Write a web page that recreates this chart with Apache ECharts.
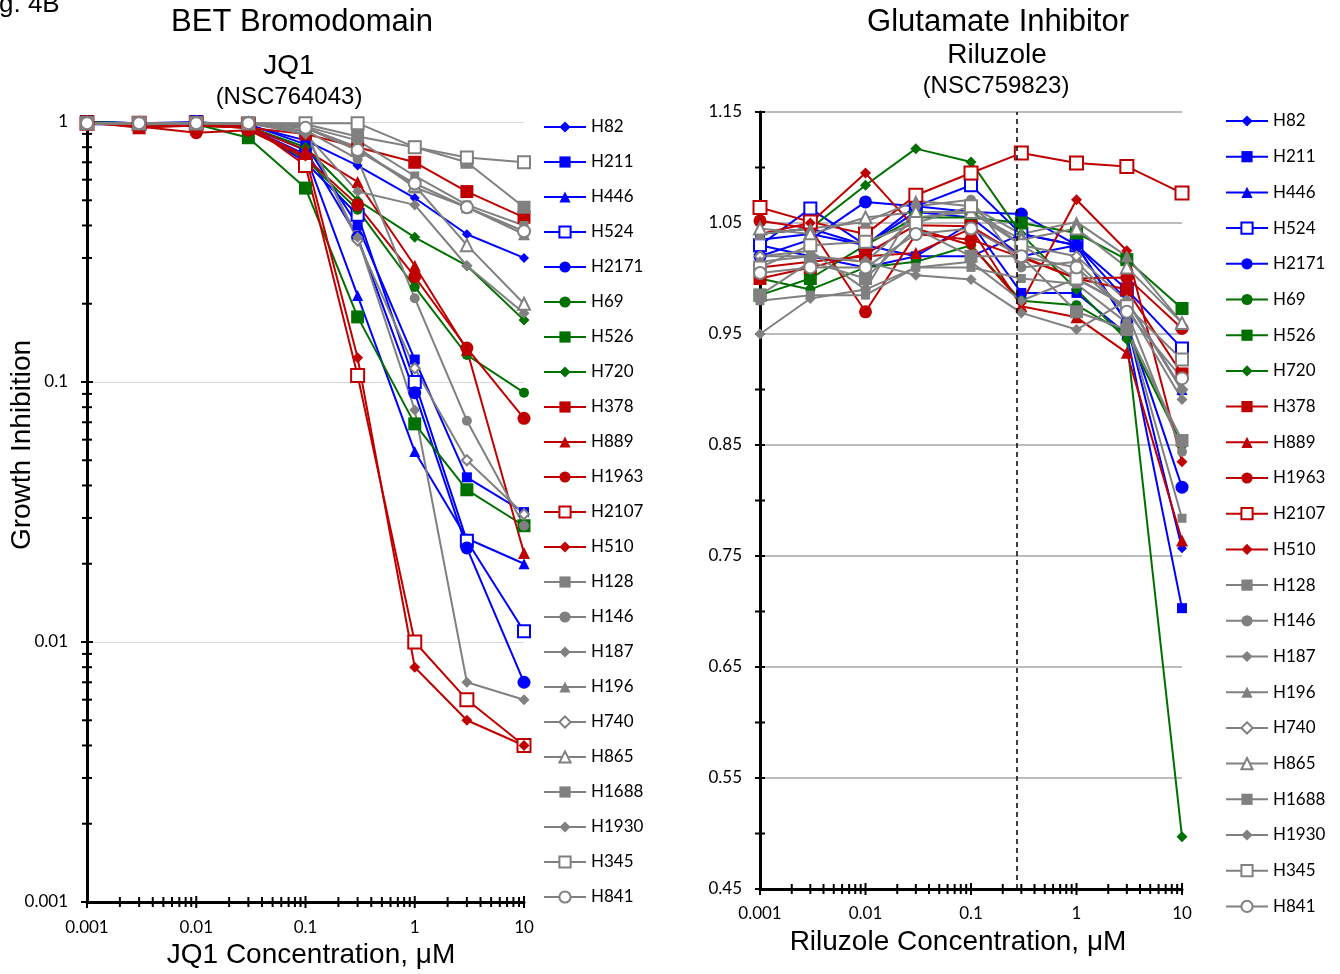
<!DOCTYPE html>
<html>
<head>
<meta charset="utf-8">
<script src="https://cdn.jsdelivr.net/npm/echarts@6/dist/echarts.min.js"></script>
<style>
  html, body { margin: 0; padding: 0; background: #fff; }
  #chart { width: 1340px; height: 974px; }
</style>
</head>
<body>
<div id="chart"></div>
<script>
// concentrations (uM), same for both drugs
var concentrations = [0.001, 0.003, 0.01, 0.03, 0.1, 0.3, 1, 3, 10];

var cellLines = ['H82', 'H211', 'H446', 'H524', 'H2171', 'H69', 'H526', 'H720', 'H378', 'H889', 'H1963',
    'H2107', 'H510', 'H128', 'H146', 'H187', 'H196', 'H740', 'H865', 'H1688', 'H1930', 'H345', 'H841'];

// JQ1 growth inhibition, one row per cell line
var jq1Inhibition = [
    [0.98, 0.98, 0.98, 0.97, 0.85, 0.68, 0.51, 0.37, 0.30],
    [1.00, 0.99, 0.99, 0.98, 0.82, 0.40, 0.122, 0.043, 0.0316],
    [0.99, 0.99, 0.98, 0.95, 0.75, 0.215, 0.054, 0.025, 0.020],
    [1.00, 0.99, 1.00, 0.97, 0.70, 0.44, 0.10, 0.0245, 0.011],
    [1.00, 0.99, 0.99, 0.96, 0.78, 0.36, 0.091, 0.023, 0.007],
    [0.99, 0.98, 0.97, 0.95, 0.72, 0.46, 0.232, 0.127, 0.091],
    [1.00, 0.99, 0.98, 0.87, 0.557, 0.178, 0.069, 0.0385, 0.028],
    [0.99, 0.99, 0.98, 0.96, 0.80, 0.50, 0.36, 0.28, 0.173],
    [1.00, 0.95, 0.97, 0.95, 0.90, 0.80, 0.70, 0.54, 0.43],
    [0.99, 0.99, 0.98, 0.96, 0.78, 0.588, 0.28, 0.133, 0.022],
    [1.00, 0.96, 0.91, 0.93, 0.73, 0.48, 0.254, 0.135, 0.0725],
    [0.99, 0.99, 0.99, 0.98, 0.68, 0.106, 0.010, 0.006, 0.004],
    [0.99, 0.96, 0.97, 0.95, 0.74, 0.124, 0.008, 0.005, 0.004],
    [0.99, 0.99, 0.99, 0.99, 0.98, 0.88, 0.80, 0.70, 0.47],
    [0.99, 0.99, 0.99, 0.98, 0.93, 0.72, 0.21, 0.071, 0.028],
    [0.99, 0.99, 0.99, 0.99, 0.90, 0.54, 0.48, 0.28, 0.184],
    [0.99, 0.99, 0.99, 0.99, 0.95, 0.80, 0.56, 0.47, 0.37],
    [0.99, 0.99, 0.99, 0.99, 0.92, 0.35, 0.113, 0.05, 0.031],
    [0.99, 0.99, 0.99, 0.99, 0.95, 0.78, 0.57, 0.336, 0.20],
    [0.99, 0.99, 0.99, 0.99, 0.96, 0.85, 0.62, 0.48, 0.40],
    [0.99, 0.99, 0.99, 0.99, 0.90, 0.36, 0.078, 0.007, 0.006],
    [0.99, 0.99, 0.99, 0.99, 0.99, 0.99, 0.80, 0.73, 0.70],
    [0.99, 0.99, 0.99, 0.99, 0.95, 0.78, 0.58, 0.47, 0.38]
];

// Riluzole growth inhibition, one row per cell line
var riluzoleInhibition = [
    [1.030, 1.020, 1.010, 1.020, 1.020, 1.040, 1.030, 0.960, 0.757],
    [1.035, 1.040, 1.030, 1.020, 1.050, 0.987, 0.987, 0.950, 0.703],
    [1.040, 1.045, 1.030, 1.060, 1.055, 1.020, 1.030, 0.980, 0.900],
    [1.030, 1.063, 1.030, 1.065, 1.084, 1.040, 1.030, 0.990, 0.937],
    [1.020, 1.035, 1.069, 1.065, 1.060, 1.058, 1.030, 0.960, 0.812],
    [1.000, 0.990, 1.010, 1.015, 1.030, 0.980, 0.976, 0.950, 0.850],
    [0.985, 1.000, 1.030, 1.055, 1.055, 1.050, 1.041, 1.017, 0.973],
    [1.040, 1.045, 1.084, 1.117, 1.105, 1.040, 0.990, 0.945, 0.497],
    [1.000, 1.010, 1.022, 1.048, 1.047, 1.020, 1.000, 0.990, 0.914],
    [1.010, 1.015, 1.020, 1.023, 1.045, 0.975, 0.965, 0.933, 0.764],
    [1.052, 1.045, 0.970, 1.040, 1.035, 1.019, 1.000, 1.001, 0.955],
    [1.064, 1.051, 1.040, 1.075, 1.095, 1.113, 1.104, 1.101, 1.077],
    [1.040, 1.050, 1.095, 1.045, 1.030, 0.978, 1.071, 1.025, 0.835],
    [0.985, 1.015, 1.000, 1.045, 1.020, 1.020, 0.970, 0.954, 0.854],
    [1.020, 1.025, 0.990, 1.065, 1.071, 1.010, 1.015, 0.970, 0.844],
    [0.950, 0.982, 0.990, 1.010, 1.015, 0.980, 1.000, 0.975, 0.891],
    [1.040, 1.045, 1.051, 1.070, 1.065, 1.040, 1.051, 1.020, 0.960],
    [1.020, 1.020, 1.015, 1.055, 1.060, 1.030, 1.020, 0.980, 0.900],
    [1.045, 1.040, 1.055, 1.060, 1.060, 1.035, 1.045, 1.010, 0.960],
    [0.980, 0.985, 0.985, 1.010, 1.010, 1.000, 0.995, 0.960, 0.784],
    [1.015, 1.020, 1.015, 1.003, 0.999, 0.969, 0.954, 0.980, 0.899],
    [1.010, 1.030, 1.033, 1.050, 1.065, 1.030, 1.000, 0.975, 0.927],
    [1.005, 1.010, 1.010, 1.040, 1.045, 1.020, 1.010, 0.970, 0.910]
];

// tick values
var logDecades = [0.001, 0.01, 0.1, 1, 10];
var riluzoleYTicks = [0.45, 0.5, 0.55, 0.6, 0.65, 0.7, 0.75, 0.8, 0.85, 0.9, 0.95, 1.0, 1.05, 1.1, 1.15];
var riluzoleMarker = 0.27;

var BLUE = '#0000ff', GREEN = '#007000', RED = '#c00000', GRAY = '#808080';
// [color, symbol, size] per cell line
var cellStyles = [
    [BLUE, 'diamond', 10], [BLUE, 'rect', 10], [BLUE, 'triangle', 11], [BLUE, 'emptyRect', 12], [BLUE, 'circle', 13],
    [GREEN, 'circle', 10], [GREEN, 'rect', 13], [GREEN, 'diamond', 11],
    [RED, 'rect', 13], [RED, 'triangle', 12], [RED, 'circle', 13], [RED, 'emptyRect', 13], [RED, 'diamond', 11],
    [GRAY, 'rect', 13], [GRAY, 'circle', 10], [GRAY, 'diamond', 11], [GRAY, 'triangle', 12], [GRAY, 'emptyDiamond', 10],
    [GRAY, 'emptyTriangle', 12], [GRAY, 'rect', 9], [GRAY, 'diamond', 11], [GRAY, 'emptyRect', 12], [GRAY, 'emptyCircle', 12]
];

var LABEL_FONT = 'Lato';
var TITLE_FONT = '"Liberation Sans", Arial, sans-serif';

function logTicks(from, to) {
    var out = [];
    logDecades.forEach(function (d) {
        if (d >= from && d <= to) out.push([d, 6]);
        if (d >= from && d < to) {
            for (var k = 2; k <= 9; k++) out.push([+(d * k).toPrecision(3), 5]);
        }
    });
    return out;
}

function tickData(xTicks, yTicks, xMin, yMin) {
    var data = [];
    xTicks.forEach(function (t) { data.push([t[0], yMin, 1, t[1]]); });
    yTicks.forEach(function (t) { data.push([xMin, t[0], 0, t[1]]); });
    return data;
}

function renderTick(params, api) {
    var p = api.coord([api.value(0), api.value(1)]);
    var h = api.value(3);
    var shape = api.value(2) === 0
        ? { x1: p[0] - h, y1: p[1], x2: p[0] + h, y2: p[1] }
        : { x1: p[0], y1: p[1] - h, x2: p[0], y2: p[1] + h };
    return { type: 'line', shape: shape, style: { stroke: '#000', lineWidth: 2 } };
}

function fmt(v) { return String(+(+v).toPrecision(3)); }

var series = [];
function addPanel(values, idx) {
    cellLines.forEach(function (name, i) {
        var st = cellStyles[i];
        var empty = st[1].indexOf('empty') === 0;
        series.push({
            name: name,
            type: 'line',
            xAxisIndex: idx,
            yAxisIndex: idx,
            data: concentrations.map(function (c, j) { return [c, values[i][j]]; }),
            symbol: st[1],
            symbolSize: st[2],
            showAllSymbol: true,
            lineStyle: { color: st[0], width: 2 },
            itemStyle: { color: st[0], borderColor: st[0], borderWidth: empty ? 1.5 : 0 },
            emphasis: { disabled: true }
        });
    });
}
addPanel(jq1Inhibition, 0);
addPanel(riluzoleInhibition, 1);

// dashed reference line on the riluzole panel
series.push({
    type: 'line', xAxisIndex: 1, yAxisIndex: 1, data: [],
    markLine: {
        silent: true, symbol: 'none', label: { show: false },
        lineStyle: { color: '#000', type: [5, 4], width: 1.5 },
        data: [{ xAxis: riluzoleMarker }]
    }
});

// crossing tick marks
series.push({
    type: 'custom', xAxisIndex: 0, yAxisIndex: 0, clip: false, silent: true,
    renderItem: renderTick,
    data: tickData(logTicks(0.001, 10), logTicks(0.001, 1), 0.001, 0.001)
});
series.push({
    type: 'custom', xAxisIndex: 1, yAxisIndex: 1, clip: false, silent: true,
    renderItem: renderTick,
    data: tickData(logTicks(0.001, 10), riluzoleYTicks.map(function (v) { return [v, 5]; }), 0.001, 0.45)
});

var axisLine = { show: true, onZero: false, lineStyle: { color: '#000', width: 3 } };
var axisLabel = { color: '#000', fontSize: 17, fontFamily: LABEL_FONT };

var legendBase = {
    data: cellLines,
    orient: 'vertical',
    padding: 0,
    itemWidth: 42,
    itemHeight: 14,
    selectedMode: false,
    textStyle: { fontSize: 17, fontFamily: LABEL_FONT, color: '#000' }
};

function txt(text, x, y, size, rot, align) {
    align = align || 'center';
    return {
        type: 'text', x: x, y: y, rotation: rot || 0,
        style: {
            text: text, font: size + 'px ' + TITLE_FONT, fill: '#000',
            textAlign: align, textVerticalAlign: 'middle', align: align, verticalAlign: 'middle'
        }
    };
}

var chart = echarts.init(document.getElementById('chart'));
chart.setOption({
    animation: false,
    backgroundColor: '#fff',
    grid: [
        { left: 87, top: 122, width: 437, height: 780 },
        { left: 760, top: 112, width: 422, height: 777 }
    ],
    xAxis: [
        { type: 'log', gridIndex: 0, min: 0.001, max: 10, logBase: 10, axisLine: axisLine,
          axisTick: { show: false }, splitLine: { show: false },
          axisLabel: Object.assign({ margin: 17, formatter: fmt }, axisLabel) },
        { type: 'log', gridIndex: 1, min: 0.001, max: 10, logBase: 10, axisLine: axisLine,
          axisTick: { show: false }, splitLine: { show: false },
          axisLabel: Object.assign({ margin: 16, formatter: fmt }, axisLabel) }
    ],
    yAxis: [
        { type: 'log', gridIndex: 0, min: 0.001, max: 1, logBase: 10, axisLine: axisLine,
          axisTick: { show: false },
          splitLine: { show: true, lineStyle: { color: '#d9d9d9', width: 1 } },
          axisLabel: Object.assign({ margin: 19, formatter: fmt }, axisLabel) },
        { type: 'value', gridIndex: 1, min: 0.45, max: 1.15, interval: 0.1, axisLine: axisLine,
          axisTick: { show: false },
          splitLine: { show: true, lineStyle: { color: '#a6a6a6', width: 1.5 } },
          axisLabel: Object.assign({ margin: 18, formatter: function (v) { return (+v).toFixed(2); } }, axisLabel) }
    ],
    legend: [
        Object.assign({ left: 543, top: 118.5, itemGap: 18 }, legendBase),
        Object.assign({ left: 1225, top: 112.5, itemGap: 18.7 }, legendBase)
    ],
    graphic: [
        txt('g. 4B', -1, 5, 26, 0, 'left'),
        txt('BET Bromodomain', 302, 22, 31),
        txt('JQ1', 289, 66, 28),
        txt('(NSC764043)', 289, 97, 24),
        txt('Glutamate Inhibitor', 998, 22, 31),
        txt('Riluzole', 997, 55, 28),
        txt('(NSC759823)', 996, 86, 24),
        txt('Growth Inhibition', 22, 445, 28, Math.PI / 2),
        txt('JQ1 Concentration, \u03bcM', 311, 955, 28),
        txt('Riluzole Concentration, \u03bcM', 958, 942, 28)
    ],
    series: series
});
</script>
</body>
</html>
